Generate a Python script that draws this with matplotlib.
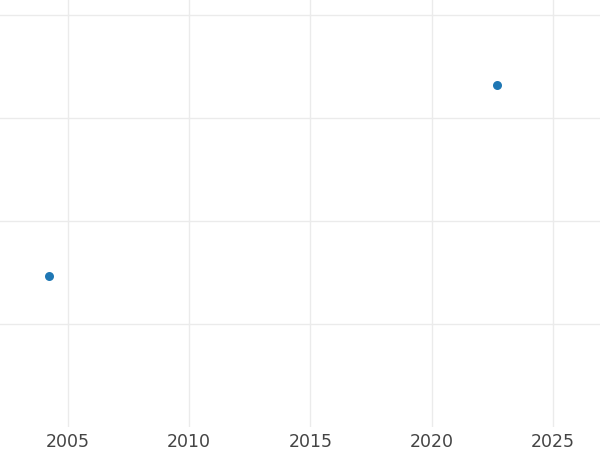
import matplotlib
matplotlib.use("Agg")
import matplotlib.pyplot as plt

years = [2004.2, 2022.7]
values = [1.47, 3.32]
xticks = [2005, 2010, 2015, 2020, 2025]
yticks = [1, 2, 3, 4]

fig = plt.figure(figsize=(6, 4.5), dpi=100)
ax = fig.add_axes([0, 1 - 427/450, 1, 427/450])
ax.scatter(years, values, s=42, color="#1f77b4", zorder=3, linewidths=0)
ax.set_xlim(2002.2, 2026.94)
ax.set_ylim(0, 4 + 15/103)
ax.set_xticks(xticks)
ax.set_xticklabels([str(t) for t in xticks])
ax.set_yticks(yticks)
ax.set_yticklabels([])
ax.grid(True, color="#ebebeb", linewidth=1)
ax.set_axisbelow(True)
for s in ax.spines.values():
    s.set_visible(False)
ax.tick_params(axis="both", length=0, labelsize=12.5, labelcolor="#444444", pad=4)
fig.savefig("out.png", dpi=100)
